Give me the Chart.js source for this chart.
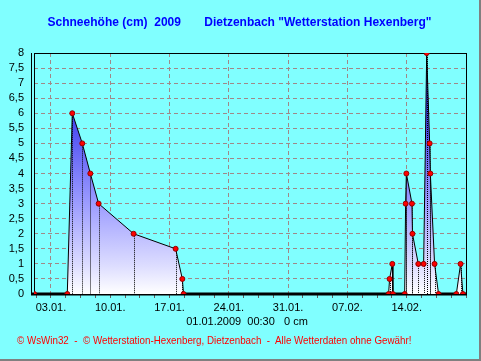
<!DOCTYPE html>
<html>
<head>
<meta charset="utf-8">
<script src="https://cdn.jsdelivr.net/npm/chart.js@4.4.1/dist/chart.umd.min.js"></script>
<style>
  html, body { margin:0; padding:0; background:#808080; width:481px; height:361px; overflow:hidden; }
  #wrap { position:absolute; left:0; top:0; width:479px; height:359px; background:#80ffff; }
  canvas { position:absolute; left:0; top:0; }
  .txt { position:absolute; white-space:pre; font-family:"Liberation Sans", Arial, sans-serif; }
  #title { left:0; width:479px; top:15px; text-align:center; font-size:12px; font-weight:bold; color:#0000ff; }
  #caption { left:0; width:494px; top:315px; text-align:center; font-size:11px; color:#000; }
  #footer { left:17px; top:334px; font-size:11px; color:#ff0000; transform:scaleX(0.89); transform-origin:0 0; }
</style>
</head>
<body>
<div id="wrap">
  <canvas id="c" width="479" height="359"></canvas>
  <div class="txt" id="title">Schneehöhe (cm)  2009       Dietzenbach "Wetterstation Hexenberg"</div>
  <div class="txt" id="caption">01.01.2009  00:30   0 cm</div>
  <div class="txt" id="footer">© WsWin32  -  © Wetterstation-Hexenberg, Dietzenbach  -  Alle Wetterdaten ohne Gewähr!</div>
</div>
<script>
// time in days since 01.01.2009 00:00
const dayOffsets = [0.02, 3.93, 4.52, 5.70, 6.65, 7.63, 11.76, 16.72, 17.51, 17.66,
                    41.86, 41.98, 42.30, 42.37, 43.76, 43.87, 43.96, 44.62, 44.68, 45.37,
                    46.00, 46.36, 46.71, 46.79, 47.29, 47.76, 49.86, 50.36, 50.64];
const snowDepth = [0, 0, 6, 5, 4, 3, 2, 1.5, 0.5, 0,
                   0, 0.5, 1, 0, 0, 3, 4, 3, 2, 1,
                   1, 8, 5, 4, 1, 0, 0, 1, 0];
const xTickDays = [2, 9, 16, 23, 30, 37, 44];
const xTickLabels = ["03.01.", "10.01.", "17.01.", "24.01.", "31.01.", "07.02.", "14.02."];
const yTickValues = [0, 0.5, 1, 1.5, 2, 2.5, 3, 3.5, 4, 4.5, 5, 5.5, 6, 6.5, 7, 7.5, 8];
const xMin = 0, xMax = 51;
const yMin = 0, yMax = 8;

const points = dayOffsets.map((d, i) => ({ x: d, y: snowDepth[i] }));
const gridColor = '#a08888';

const dottedPlugin = {
  id: 'dotted',
  afterDatasetDraw(chart, args) {
    if (args.index !== 1) return;
    const ctx = chart.ctx;
    const y0 = chart.scales.y.getPixelForValue(0);
    ctx.save();
    ctx.strokeStyle = '#000';
    ctx.lineWidth = 1;
    ctx.setLineDash([1, 1]);
    args.meta.data.forEach((el, i) => {
      if (snowDepth[i] <= 0) return;
      const x = Math.round(el.x) + 0.5;
      ctx.beginPath();
      ctx.moveTo(x, el.y);
      ctx.lineTo(x, y0);
      ctx.stroke();
    });
    ctx.restore();
  }
};

const framePlugin = {
  id: 'frame',
  beforeDatasetsDraw(chart) {
    const a = chart.chartArea, ctx = chart.ctx;
    ctx.save();
    ctx.strokeStyle = '#000';
    ctx.setLineDash([]);
    ctx.lineWidth = 1;
    ctx.beginPath();
    ctx.moveTo(a.left, Math.round(a.top) + 0.5);
    ctx.lineTo(a.right, Math.round(a.top) + 0.5);
    ctx.moveTo(Math.round(a.right) + 0.5, a.top);
    ctx.lineTo(Math.round(a.right) + 0.5, a.bottom);
    ctx.moveTo(Math.round(a.left) + 0.5, a.top);
    ctx.lineTo(Math.round(a.left) + 0.5, a.bottom);
    ctx.moveTo(Math.round(a.left) - 2.5, a.top);
    ctx.lineTo(Math.round(a.left) - 2.5, a.bottom + 1);
    ctx.stroke();
    ctx.lineWidth = 3;
    ctx.beginPath();
    ctx.moveTo(a.left - 3, Math.round(a.bottom));
    ctx.lineTo(a.right + 1, Math.round(a.bottom));
    ctx.stroke();
    ctx.restore();
  }
};

const minorTicks = [];
for (let v = xTickDays[0] - 1.75; v <= xMax + 0.001; v += 1.75) minorTicks.push(+v.toFixed(2));

new Chart(document.getElementById('c'), {
  type: 'line',
  data: {
    datasets: [
      {
        data: points,
        borderColor: '#000',
        borderWidth: 1,
        pointRadius: 2.5,
        pointBackgroundColor: '#ff0000',
        pointBorderColor: '#900000',
        pointBorderWidth: 1,
        fill: false,
        tension: 0
      },
      {
        data: points,
        borderWidth: 0,
        borderColor: 'rgba(0,0,0,0)',
        pointRadius: 0,
        tension: 0,
        fill: 'origin',
        backgroundColor: (ctx) => {
          const a = ctx.chart.chartArea;
          if (!a) return 'rgb(120,120,255)';
          const g = ctx.chart.ctx.createLinearGradient(0, a.top, 0, a.bottom);
          g.addColorStop(0, 'rgb(25,25,230)');
          g.addColorStop(0.25, 'rgb(65,65,240)');
          g.addColorStop(0.62, 'rgb(155,155,255)');
          g.addColorStop(0.88, 'rgb(220,220,255)');
          g.addColorStop(1, 'rgb(255,255,255)');
          return g;
        }
      }
    ]
  },
  options: {
    responsive: false,
    animation: false,
    events: [],
    layout: { padding: { left: 0, top: 53, right: 13, bottom: 35 } },
    plugins: { legend: { display: false }, tooltip: { enabled: false }, title: { display: false } },
    scales: {
      x: {
        type: 'linear',
        min: xMin, max: xMax,
        afterFit(s) { s.height = 30; },
        afterBuildTicks(s) { s.ticks = minorTicks.map(v => ({ value: v })); },
        border: { display: false, dash: [4, 3] },
        grid: {
          color: (c) => (c.tick && xTickDays.some(d => Math.abs(d - c.tick.value) < 0.01)) ? gridColor : 'rgba(0,0,0,0)',
          lineWidth: 1,
          drawTicks: true,
          tickLength: 4,
          tickColor: '#606060',
          tickBorderDash: []
        },
        ticks: {
          autoSkip: false,
          maxRotation: 0,
          padding: 3,
          color: '#000',
          font: { family: '"Liberation Sans", Arial, sans-serif', size: 11 },
          callback: (v) => {
            const i = xTickDays.findIndex(d => Math.abs(d - v) < 0.01);
            return i >= 0 ? xTickLabels[i] : '';
          }
        }
      },
      y: {
        min: yMin, max: yMax,
        afterFit(s) { s.width = 34; },
        afterBuildTicks(s) { s.ticks = yTickValues.map(v => ({ value: v })); },
        border: { display: false, dash: [4, 3] },
        grid: {
          color: (c) => (c.tick && (c.tick.value === yMin || c.tick.value === yMax)) ? 'rgba(0,0,0,0)' : gridColor,
          drawTicks: false
        },
        ticks: {
          autoSkip: false,
          padding: 10,
          color: '#000',
          font: { family: '"Liberation Sans", Arial, sans-serif', size: 11 },
          callback: (v) => String(v).replace('.', ',')
        }
      }
    }
  },
  plugins: [dottedPlugin, framePlugin]
});
</script>
</body>
</html>
